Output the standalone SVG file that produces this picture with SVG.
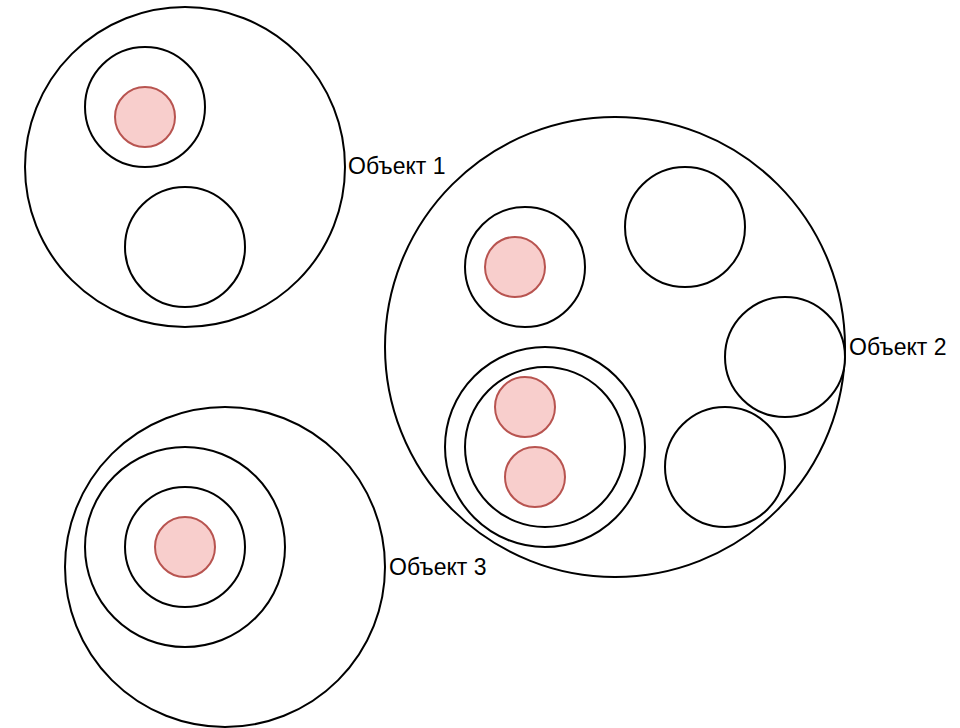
<svg xmlns="http://www.w3.org/2000/svg" width="960" height="728" viewBox="0 0 960 728">
<style>
.c{fill:none;stroke:#000;stroke-width:2}
.w{fill:#fff;stroke:#000;stroke-width:2}
.r{fill:#f8cecc;stroke:#b85450;stroke-width:2}
.t{font-family:"Liberation Sans",Arial,sans-serif;font-size:23px;fill:#000}
</style>
<rect width="960" height="728" fill="#fff"/>
<g id="object1">
<circle class="w" cx="185" cy="167" r="160"/>
<circle class="w" cx="145" cy="107" r="60"/>
<circle class="r" cx="145" cy="117" r="30"/>
<circle class="w" cx="185" cy="247" r="60"/>
<text class="t" x="348" y="174">Объект 1</text>
</g>
<g id="object2">
<circle class="w" cx="615" cy="347" r="230"/>
<circle class="w" cx="525" cy="267" r="60"/>
<circle class="r" cx="515" cy="267" r="30"/>
<circle class="w" cx="685" cy="227" r="60"/>
<circle class="w" cx="785" cy="357" r="60"/>
<circle class="w" cx="725" cy="467" r="60"/>
<circle class="w" cx="545" cy="447" r="100"/>
<circle class="w" cx="545" cy="447" r="80"/>
<circle class="r" cx="525" cy="407" r="30"/>
<circle class="r" cx="535" cy="477" r="30"/>
<text class="t" x="849" y="355">Объект 2</text>
</g>
<g id="object3">
<circle class="w" cx="225" cy="567" r="160"/>
<circle class="w" cx="185" cy="547" r="100"/>
<circle class="w" cx="185" cy="547" r="60"/>
<circle class="r" cx="185" cy="547" r="30"/>
<text class="t" x="389" y="575">Объект 3</text>
</g>
<g id="connectors"/>
</svg>
